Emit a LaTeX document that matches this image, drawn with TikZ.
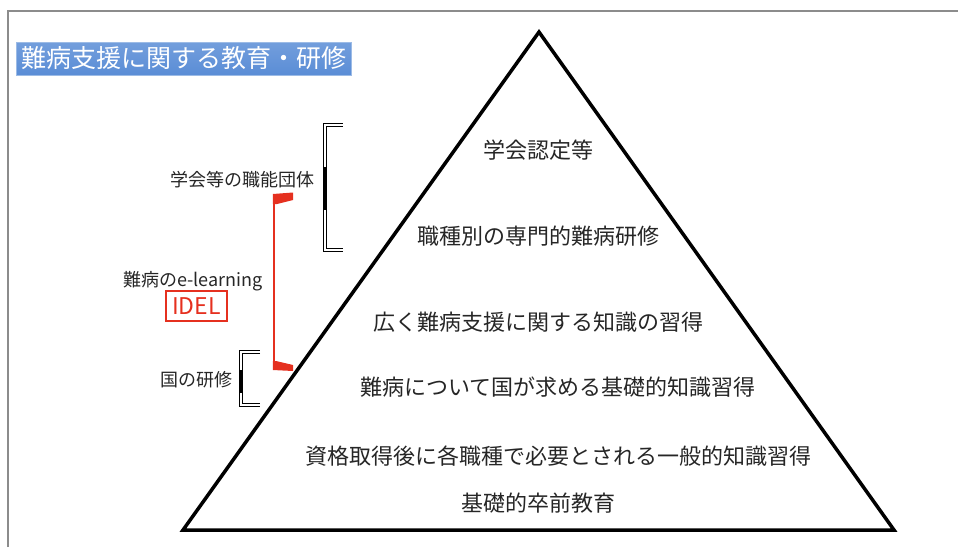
\documentclass[tikz,border=0pt]{standalone}
\usepackage{fontspec}
\setmainfont{Noto Sans CJK JP}
\usetikzlibrary{positioning,calc}
\definecolor{titleblue}{HTML}{5A8DD6}
\definecolor{idelred}{HTML}{E5301F}
\definecolor{framegray}{HTML}{8C8C8C}
\tikzset{
    titlebox/.style = {draw=titleblue!60, top color=titleblue!85, bottom color=titleblue!100!black,
        text=white, font=\fontsize{25}{25}\selectfont,
        minimum width=335pt, minimum height=33pt, inner sep=0pt},
    level/.style = {font=\fontsize{22}{22}\selectfont, text=black!85, inner sep=0pt},
    side/.style = {font=\fontsize{18}{18}\selectfont, text=black!85, inner sep=0pt},
    tagbox/.style = {draw=idelred, line width=1.2pt, text=idelred,
        font=\fontsize{23}{23}\selectfont, minimum width=61pt, minimum height=30pt, inner sep=0pt},
    bracket/.style = {line width=1.6pt, double=white, double distance=1.4pt},
    pyramid/.style = {line width=3.5pt, line join=miter}
}

\begin{document}
\begin{tikzpicture}[x=1pt, y=-1pt]
    \useasboundingbox (0,0) rectangle (958,547);
    % frame
    \draw [framegray, line width=1.2pt] (8,547) -- (8,11) -- (958,11);
    \node [titlebox] (title) at (183.5,58.5) {難病支援に関する教育・研修};

    % pyramid
    \coordinate (apex) at (539,32);
    \coordinate (bl) at (183,530);
    \coordinate (br) at (894,530);
    \draw [pyramid] (apex) -- (bl) -- (br) -- cycle;
    \node [level] (l1) at (538,150) {学会認定等};
    \node [level] (l2) at (538,236) {職種別の専門的難病研修};
    \node [level] (l3) at (538,322) {広く難病支援に関する知識の習得};
    \node [level] (l4) at (558,387) {難病について国が求める基礎的知識習得};
    \node [level] (l5) at (558,456) {資格取得後に各職種で必要とされる一般的知識習得};
    \node [level] (l6) at (538,503) {基礎的卒前教育};

    % side labels
    \node [side] (society) at (242,180) {学会等の職能団体};
    \node [side] (elearn) at (193,281) {難病のe-learning};
    \node [tagbox] (idel) at (196.5,306) {IDEL};
    \node [side] (national) at (196,380) {国の研修};

    % brackets
    \draw [bracket] (343,125) -- (325,125) -- (325,250) -- (343,250);
    \draw [line width=4.6pt] (325,167) -- (325,210);
    \draw [bracket] (260,352) -- (241,352) -- (241,405) -- (260,405);
    \draw [line width=4.6pt] (241,370) -- (241,393);
    \draw [idelred, line width=2.5pt] (274,197) -- (274,366);
    \fill [idelred] (272.8,194) -- (293,192.5) -- (293,200) -- (277,204) -- (272.8,204) -- cycle;
    \fill [idelred] (272.8,361) -- (276,361) -- (293,365) -- (293,371) -- (272.8,370) -- cycle;
\end{tikzpicture}
\end{document}
